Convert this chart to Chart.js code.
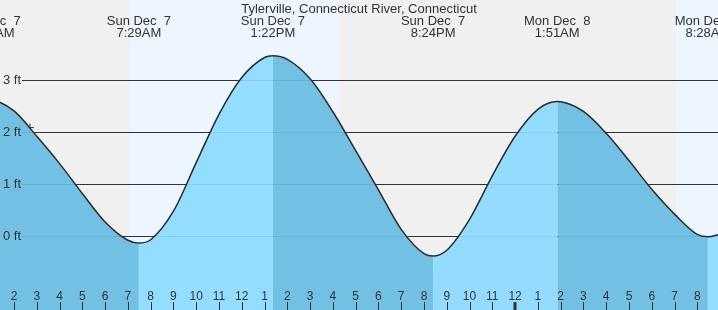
<!DOCTYPE html>
<html><head><meta charset="utf-8">
<script src="https://cdn.jsdelivr.net/npm/chart.js@4"></script>
<style>html,body{margin:0;padding:0;background:#f0f0f0;}#wrap{width:718px;height:310px;}</style>
</head><body><div id="wrap"><canvas id="c" width="718" height="310"></canvas></div>
<script>
// ---- data (hours since Sun Dec 7 00:00, height in ft) ----
const tideTimes   = [0, 0.88, 1, 2, 3, 4, 5, 6, 7, 7.483, 8, 9, 10, 11, 12, 13, 13.367, 14, 15, 16, 17, 18, 19, 20, 20.4, 21, 22, 23, 24, 25, 25.85, 26, 27, 28, 29, 30, 31, 32, 32.467, 33];
const tideHeights = [2.56, 2.63, 2.627, 2.411, 1.923, 1.398, 0.824, 0.275, -0.076, -0.13, -0.066, 0.482, 1.416, 2.346, 3.053, 3.439, 3.47, 3.401, 3.028, 2.395, 1.647, 0.895, 0.133, -0.334, -0.38, -0.268, 0.326, 1.164, 1.924, 2.442, 2.59, 2.587, 2.401, 1.981, 1.457, 0.904, 0.426, 0.036, -0.01, 0.04];
const extremeTimes = [0.88, 7.483, 13.367, 20.4, 25.85, 32.467];
const extremeDays  = ['Sun Dec  7', 'Sun Dec  7', 'Sun Dec  7', 'Sun Dec  7', 'Mon Dec  8', 'Mon Dec  8'];
const extremeClock = ['12:53AM', '7:29AM', '1:22PM', '8:24PM', '1:51AM', '8:28AM'];
const nowTime = [2.70];
const nowHeight = [2.09];
const dayStart = [7.05, 31.065];
const dayEnd   = [16.30, 40.3];
const gridFeet = [0, 1, 2, 3];
const gridLabels = ['0 ft', '1 ft', '2 ft', '3 ft'];
const hourTicks  = [2,3,4,5,6,7,8,9,10,11,12,13,14,15,16,17,18,19,20,21,22,23,24,25,26,27,28,29,30,31,32];
const hourLabels = ['2','3','4','5','6','7','8','9','10','11','12','1','2','3','4','5','6','7','8','9','10','11','12','1','2','3','4','5','6','7','8'];
const midnightTicks = [24];
const titleText = 'Tylerville, Connecticut River, Connecticut';

const X_MIN = 1.3853, X_MAX = 32.909, Y_MIN = -1.4173, Y_MAX = 4.5442;
const nightColor = '#f0f0f0', dayColor = '#edf6fe';
const fallColor = 'rgba(103,188,227,0.92)', riseColor = 'rgba(139,218,254,0.92)';
const textColor = '#333';

const tidePoints = tideTimes.map((t, i) => ({x: t, y: tideHeights[i]}));
const nowPoints = nowTime.map((t, i) => ({x: t, y: nowHeight[i]}));

const decor = {
  id: 'tideDecor',
  beforeDatasetsDraw(chart) {
    const {ctx, chartArea: a, scales: {x, y}} = chart;
    ctx.save();
    ctx.fillStyle = nightColor;
    ctx.fillRect(a.left, a.top, a.right - a.left, a.bottom - a.top);
    ctx.fillStyle = dayColor;
    for (let i = 0; i < dayStart.length; i++) {
      const x0 = x.getPixelForValue(dayStart[i]), x1 = Math.min(a.right, x.getPixelForValue(dayEnd[i]));
      ctx.fillRect(x0, a.top, x1 - x0, a.bottom - a.top);
    }
    ctx.strokeStyle = '#333'; ctx.lineWidth = 1;
    for (const v of gridFeet) {
      const py = Math.round(y.getPixelForValue(v)) + 0.5;
      ctx.beginPath(); ctx.moveTo(22, py); ctx.lineTo(a.right, py); ctx.stroke();
    }
    ctx.restore();
  },
  afterDatasetsDraw(chart) {
    const {ctx, chartArea: a, scales: {x, y}} = chart;
    ctx.save();
    ctx.fillStyle = textColor;
    ctx.font = '13px "Liberation Sans", Arial, sans-serif';
    ctx.textAlign = 'center'; ctx.textBaseline = 'alphabetic';
    ctx.fillText(titleText, (a.left + a.right) / 2, 12.5);
    for (let i = 0; i < extremeTimes.length; i++) {
      const px = x.getPixelForValue(extremeTimes[i]);
      ctx.fillText(extremeDays[i], px, 24.5);
      ctx.fillText(extremeClock[i], px, 36.5);
    }
    ctx.textAlign = 'left'; ctx.textBaseline = 'middle';
    for (let i = 0; i < gridFeet.length; i++) {
      ctx.fillText(gridLabels[i], 3, y.getPixelForValue(gridFeet[i]));
    }
    ctx.font = '12px "Liberation Sans", Arial, sans-serif';
    ctx.textAlign = 'center'; ctx.textBaseline = 'alphabetic';
    ctx.strokeStyle = '#333';
    for (let i = 0; i < hourTicks.length; i++) {
      const px = x.getPixelForValue(hourTicks[i]);
      ctx.fillText(hourLabels[i], px, 299.5);
      const mid = midnightTicks.includes(hourTicks[i]);
      ctx.lineWidth = mid ? 3 : 1;
      const lx = mid ? Math.round(px) : Math.round(px) + 0.5;
      ctx.beginPath(); ctx.moveTo(lx, 302); ctx.lineTo(lx, a.bottom); ctx.stroke();
    }
    ctx.restore();
  }
};

new Chart(document.getElementById('c'), {
  type: 'line',
  data: {
    datasets: [{
      data: tidePoints,
      borderColor: '#2b2b2b', borderWidth: 1.5,
      backgroundColor: fallColor,
      fill: 'start',
      cubicInterpolationMode: 'monotone',
      pointRadius: 0,
      segment: {
        backgroundColor: c => (c.p1.parsed.y > c.p0.parsed.y ? riseColor : fallColor)
      }
    }, {
      type: 'scatter',
      data: nowPoints,
      showLine: false,
      pointStyle: 'cross', pointRadius: 4, pointBorderWidth: 1,
      borderColor: '#333', pointBorderColor: '#333'
    }]
  },
  options: {
    responsive: false, animation: false, devicePixelRatio: 1,
    layout: {padding: 0, autoPadding: false},
    plugins: {legend: {display: false}, tooltip: {enabled: false}, title: {display: false}},
    scales: {
      x: {type: 'linear', min: X_MIN, max: X_MAX, display: false},
      y: {type: 'linear', min: Y_MIN, max: Y_MAX, display: false}
    }
  },
  plugins: [decor]
});
</script></body></html>
